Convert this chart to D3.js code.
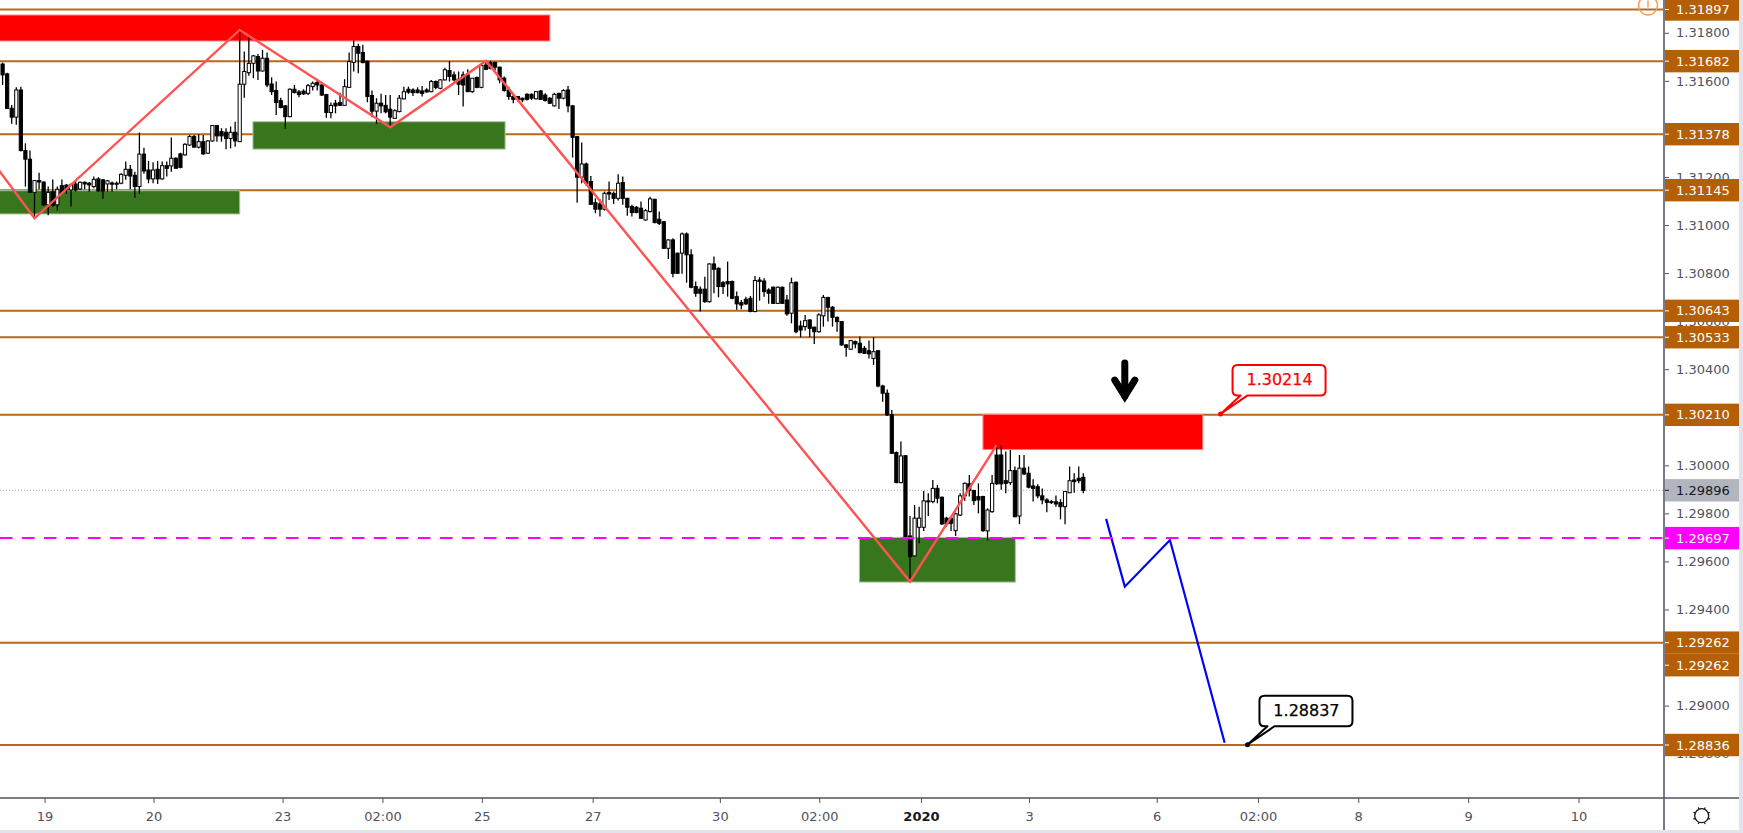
<!DOCTYPE html>
<html>
<head>
<meta charset="utf-8">
<title>GBPUSD levels</title>
<script src="https://cdn.jsdelivr.net/npm/d3@7"></script>
<style>
  html, body { margin: 0; padding: 0; background: #fff; overflow: hidden; }
  text { font-family: "DejaVu Sans", sans-serif; }
</style>
</head>
<body>
<svg id="chart" width="1743" height="833"></svg>
<script>
// candles: [open, high, low, close] in 1/100000 of a price unit
var barsA = [
[131670,131676,131583,131625],[131629,131634,131485,131485],[131486,131500,131421,131449],[131449,131573,131417,131562],
[131562,131576,131306,131310],[131310,131340,131160,131274],[131274,131310,131136,131136],[131136,131185,131028,131185],
[131185,131218,131149,131179],[131179,131181,131079,131084],[131084,131160,131041,131136],[131138,131190,131077,131081],
[131084,131160,131060,131149],[131164,131190,131129,131136],[131166,131171,131129,131146],[131146,131174,131077,131167],
[131171,131185,131139,131146],[131150,131181,131146,131178],[131178,131181,131149,131171],[131174,131179,131139,131167],
[131160,131202,131153,131190],[131192,131199,131139,131142],[131188,131192,131109,131142],[131171,131188,131139,131184],
[131175,131181,131139,131170],[131174,131181,131149,131170],[131174,131215,131170,131211],[131207,131264,131188,131232],
[131232,131250,131149,131204],[131207,131222,131114,131160],[131160,131385,131129,131295],[131295,131322,131213,131225],
[131229,131267,131174,131192],[131192,131261,131174,131229],[131232,131267,131171,131192],[131192,131264,131188,131247],
[131247,131264,131202,131236],[131246,131364,131222,131278],[131278,131282,131236,131236],[131296,131301,131236,131240],
[131292,131340,131288,131336],[131333,131375,131329,131368],[131368,131375,131324,131324],[131324,131378,131319,131347],
[131347,131375,131292,131296],[131299,131354,131296,131350],[131350,131414,131347,131414],[131414,131414,131347,131371],
[131389,131403,131347,131371],[131386,131403,131315,131360],[131360,131410,131319,131386],[131386,131430,131326,131350]
];
var barsB = [
[131347,131812,131347,131586],[131586,131722,131530,131639],[131634,131784,131621,131673],[131673,131708,131611,131704],
[131701,131712,131604,131641],[131641,131729,131639,131694],[131694,131718,131573,131583],[131587,131615,131541,131555],
[131560,131597,131458,131510],[131518,131530,131486,131489],[131496,131500,131401,131451],[131451,131569,131449,131565],
[131565,131583,131548,131551],[131554,131562,131532,131543],[131557,131565,131541,131546],[131548,131587,131541,131580],
[131576,131597,131560,131590],[131593,131607,131560,131583],[131583,131590,131537,131541],[131543,131546,131446,131468],
[131468,131510,131444,131498],[131507,131521,131465,131496],[131510,131551,131496,131498],[131498,131607,131496,131576],
[131573,131718,131573,131680],[131677,131768,131639,131743],[131743,131754,131632,131715],[131718,131750,131673,131676],
[131682,131684,131511,131535],[131539,131560,131449,131474],[131474,131528,131421,131507],[131507,131546,131465,131496],
[131498,131541,131465,131471],[131482,131541,131410,131449],[131444,131482,131444,131476],[131472,131541,131469,131528],
[131525,131576,131523,131555],[131565,131576,131546,131553],[131562,131569,131537,131551],[131562,131573,131548,131551],
[131558,131579,131535,131548],[131562,131569,131551,131554],[131555,131604,131553,131597],[131597,131601,131565,131573],
[131569,131607,131565,131604],[131604,131655,131601,131646],[131643,131683,131597,131618],[131625,131639,131597,131604],
[131607,131639,131541,131586],[131625,131639,131493,131583],[131625,131648,131555,131555],[131555,131611,131551,131611],
[131614,131618,131569,131573],[131573,131673,131569,131664],[131666,131684,131646,131648],[131676,131684,131648,131652],
[131676,131680,131643,131657]
];
var barsC = [
[131657,131659,131590,131604],[131611,131618,131555,131560],[131562,131576,131521,131535],[131535,131541,131507,131523],
[131535,131537,131514,131523],[131528,131530,131511,131521],[131544,131548,131518,131523],[131544,131548,131521,131528],
[131525,131558,131523,131555],[131558,131562,131521,131523],[131541,131548,131514,131518],[131528,131532,131504,131507],
[131496,131551,131493,131544],[131548,131551,131483,131528],[131528,131565,131523,131560],[131562,131579,131469,131496],
[131496,131500,131281,131365],[131368,131371,131093,131199],[131199,131343,131174,131254],[131254,131260,131163,131174],
[131181,131204,131084,131086],[131093,131111,131049,131066],[131088,131107,131035,131066],[131066,131139,131060,131132],
[131135,131181,131104,131129],[131132,131139,131088,131111],[131111,131211,131102,131174],[131177,131202,131084,131111],
[131111,131114,131039,131074],[131077,131084,131035,131052],[131074,131079,131049,131052],[131070,131098,131025,131028],
[131021,131066,131018,131060],[131056,131118,131052,131109],[131107,131109,131007,131010],[131024,131056,131000,131007],
[131014,131014,130901,130903],[130903,130941,130859,130938],[130938,130945,130783,130799],[130883,130885,130797,130799],
[130883,130969,130797,130963],[130963,130969,130760,130876],[130876,130899,130737,130741],[130744,130765,130702,130716],
[130733,130744,130640,130716],[130733,130785,130677,130681],[130681,130841,130677,130838],[130838,130869,130716,130816],
[130820,130824,130699,130744],[130760,130767,130713,130744],[130765,130848,130702,130755],[130765,130769,130691,130695],
[130702,130723,130647,130672],[130677,130688,130649,130667],[130691,130702,130667,130672],[130695,130705,130637,130640],
[130640,130788,130637,130769],[130771,130783,130685,130765],[130767,130779,130702,130723],[130730,130737,130672,130716],
[130741,130744,130672,130674],[130674,130744,130672,130741],[130741,130744,130672,130674],[130688,130709,130622,130630]
];
var barsD = [
[130633,130781,130591,130760],[130762,130765,130550,130556],[130580,130602,130533,130563],[130577,130626,130561,130602],
[130605,130608,130533,130570],[130575,130577,130505,130556],[130556,130633,130552,130626],[130622,130709,130577,130699],
[130698,130702,130598,130658],[130658,130663,130577,130616],[130616,130619,130556,130598],[130598,130598,130497,130501],
[130501,130505,130452,130491],[130483,130522,130480,130519],[130515,130519,130487,130505],[130508,130536,130466,130469],
[130487,130497,130464,130466],[130477,130519,130445,130464],[130445,130533,130418,130473],[130477,130480,130325,130330],
[130330,130335,130265,130300],[130300,130316,130205,130210],[130210,130230,130047,130050],[130053,130057,129925,129928],
[129928,130099,129925,130039],[130040,130043,129700,129703],[129706,129789,129516,129620],[129623,129835,129620,129780],
[129742,129828,129676,129780],[129742,129893,129727,129852],[129852,129884,129789,129849],[129849,129939,129842,129904],
[129904,129918,129842,129863],[129867,129870,129752,129756],[129780,129786,129745,129756],[129780,129786,129727,129759],
[129728,129803,129706,129798],[129793,129884,129789,129873],[129873,129928,129853,129925],[129923,129960,129870,129895],
[129895,129898,129835,129853],[129870,129925,129800,129856],[129870,129873,129724,129728],[129727,129821,129687,129814],
[129807,129960,129803,129925],[130043,130085,129918,129923],[130043,130082,129898,129923],[129936,130057,129884,129925],
[129928,130064,129918,129978],[129978,129995,129784,129786],[129789,130043,129755,129988],[129988,130043,129960,129964],
[129967,129995,129904,129909],[129914,129942,129849,129904],[129911,129921,129863,129873],[129873,129904,129838,129856],
[129856,129863,129805,129846],[129849,129856,129839,129845],[129848,129874,129828,129839],[129845,129859,129775,129828],
[129828,129893,129755,129891],[129886,129995,129884,129936],[129939,129967,129886,129932],[129946,129995,129925,129936],
[129950,129967,129884,129895]
];

var levels = [1.31897, 1.31682, 1.31378, 1.31145, 1.30643, 1.30533, 1.30210, 1.29262, 1.28836];
var stackedTag = { at: 1.29168, label: "1.29262" }; // second tag, pushed down by the axis
var lastPrice = 1.29896;
var dashedLevel = 1.29697;
var priceTicks = [1.318, 1.316, 1.312, 1.310, 1.308, 1.306, 1.304, 1.300, 1.298, 1.296, 1.294, 1.290, 1.288];

var timeTicks = [9.2, 33.1, 61.4, 83.3, 105.1, 129.4, 157.3, 179.1, 201.4, 225.1, 253.1, 275.3, 297.3, 321.4, 345.6];
var timeLabels = ["19", "20", "23", "02:00", "25", "27", "30", "02:00", "2020", "3", "6", "02:00", "8", "9", "10"];

// zones: bar from, bar to, price top, price bottom
var redZones = [[-2, 120, 1.31874, 1.31766], [215, 263.2, 1.30212, 1.30066]];
var greenZones = [[-2, 52, 1.31143, 1.31046], [54.9, 110.2, 1.31430, 1.31316], [187.9, 222.1, 1.29700, 1.29514]];

var zigzagBars = [-1, 7, 52, 85, 106, 199, 218];
var zigzagPrices = [1.31233, 1.31028, 1.31812, 1.31407, 1.31683, 1.29516, 1.30084];
var forecastBars = [242, 246.1, 256, 268];
var forecastPrices = [1.29777, 1.29495, 1.29689, 1.28845];

var callouts = [
  { bar: 267.1, price: 1.30214, color: "#ff0000" },
  { bar: 273, price: 1.28837, color: "#000000" }
];
var arrowBar = 246.1, arrowPrice = 1.30438;

var bars = barsA.concat(barsB, barsC, barsD);

var plotW = 1664, plotH = 798, panelR = 1739, panelB = 830;
var tagColor = "#b45f06", axisText = "#50535e";

var x = d3.scaleLinear().domain([0, 237]).range([2.6, 1083.3]);
var y = d3.scaleLinear().domain([1.31897, 1.28836]).range([9.5, 745]);

var svg = d3.select("#chart");
svg.append("rect").attr("width", 1743).attr("height", 833).attr("fill", "#e0e3eb");
svg.append("rect").attr("width", panelR).attr("height", panelB).attr("fill", "#fff");

svg.append("clipPath").attr("id", "plot").append("rect").attr("width", plotW).attr("height", plotH);
var plot = svg.append("g").attr("clip-path", "url(#plot)");

// horizontal levels sit under everything else
plot.selectAll(".level").data(levels).join("line")
  .attr("class", "level")
  .attr("x1", 0).attr("x2", plotW)
  .attr("y1", function(d) { return y(d); }).attr("y2", function(d) { return y(d); })
  .attr("stroke", "#b8691a").attr("stroke-width", 2);

plot.append("line")
  .attr("x1", 0).attr("x2", plotW).attr("y1", y(lastPrice)).attr("y2", y(lastPrice))
  .attr("stroke", "#a8abb4").attr("stroke-width", 1).attr("stroke-dasharray", "1 2");

function drawZones(data, fill, edge) {
  plot.selectAll(null).data(data).join("rect")
    .attr("x", function(d) { return x(d[0]); })
    .attr("width", function(d) { return x(d[1]) - x(d[0]); })
    .attr("y", function(d) { return y(d[2]); })
    .attr("height", function(d) { return y(d[3]) - y(d[2]); })
    .attr("fill", fill).attr("stroke", edge).attr("stroke-width", 1);
}
drawZones(redZones, "#ff0000", "#ff8080");
drawZones(greenZones, "#38761d", "#a9c49c");

// candles
var candle = plot.selectAll(".bar").data(bars).join("g").attr("class", "bar");
candle.append("line")
  .attr("x1", function(d, i) { return x(i); }).attr("x2", function(d, i) { return x(i); })
  .attr("y1", function(d) { return y(d[1] / 1e5); }).attr("y2", function(d) { return y(d[2] / 1e5); })
  .attr("stroke", "#000").attr("stroke-width", 1.3);
candle.append("rect")
  .attr("x", function(d, i) { return x(i) - 1.6; })
  .attr("width", 3.2)
  .attr("y", function(d) { return y(Math.max(d[0], d[3]) / 1e5); })
  .attr("height", function(d) { return Math.max(1, Math.abs(y(d[0] / 1e5) - y(d[3] / 1e5))); })
  .attr("fill", function(d) { return d[3] >= d[0] ? "#fff" : "#000"; })
  .attr("stroke", "#000").attr("stroke-width", 1);

var line = d3.line().x(function(d) { return x(d[0]); }).y(function(d) { return y(d[1]); });
plot.append("path").datum(d3.zip(zigzagBars, zigzagPrices))
  .attr("d", line).attr("fill", "none").attr("stroke", "#ff5252").attr("stroke-width", 2.4);
plot.append("path").datum(d3.zip(forecastBars, forecastPrices))
  .attr("d", line).attr("fill", "none").attr("stroke", "#0000ff").attr("stroke-width", 2.2);

plot.append("line")
  .attr("x1", 0).attr("x2", plotW).attr("y1", y(dashedLevel)).attr("y2", y(dashedLevel))
  .attr("stroke", "#ff00ff").attr("stroke-width", 2).attr("stroke-dasharray", "12.5 9.5");

// down arrow above the upper red zone
var arrow = plot.append("g")
  .attr("transform", "translate(" + x(arrowBar) + "," + y(arrowPrice) + ")")
  .attr("fill", "none").attr("stroke", "#000").attr("stroke-width", 7);
arrow.append("line").attr("x1", 0).attr("x2", 0).attr("y1", 3).attr("y2", 36).attr("stroke-linecap", "round");
arrow.append("path").attr("d", "M-10,20L0,36L10,20").attr("stroke-linecap", "round");

// price callouts
callouts.forEach(function(c) {
  var g = plot.append("g").attr("transform", "translate(" + x(c.bar) + "," + y(c.price) + ")");
  g.append("path")
    .attr("d", "M0,0L20,-18.5H17Q12,-18.5 12,-23.5V-44Q12,-49 17,-49H100Q105,-49 105,-44V-23.5Q105,-18.5 100,-18.5H27Z")
    .attr("fill", "#fff").attr("stroke", c.color).attr("stroke-width", 2).attr("stroke-linejoin", "round");
  g.append("circle").attr("r", 2.5).attr("fill", c.color);
  g.append("text").attr("x", 59).attr("y", -34)
    .attr("text-anchor", "middle").attr("dominant-baseline", "central")
    .attr("font-size", 16).attr("fill", c.color).attr("stroke", c.color).attr("stroke-width", 0.25)
    .text(d3.format(".5f")(c.price));
});

// alert clock on the axis edge
var alert = svg.append("g").attr("transform", "translate(1648," + (y(levels[0]) - 4) + ")");
alert.append("circle").attr("r", 9.5).attr("fill", "none").attr("stroke", "#ff9850").attr("stroke-width", 1.5);
alert.append("line").attr("y1", -5).attr("y2", 2).attr("stroke", "#ff9850").attr("stroke-width", 1.5);

// price axis
var priceAxis = svg.append("g").attr("transform", "translate(" + plotW + ",0)")
  .call(d3.axisRight(y).tickValues(priceTicks).tickFormat(d3.format(".5f")).tickSize(5).tickPadding(7));
priceAxis.select(".domain").remove();
priceAxis.selectAll("line").attr("stroke", axisText);
priceAxis.selectAll("text").attr("fill", axisText).attr("font-size", 13);

function priceTag(at, label, fill, color) {
  var g = svg.append("g").attr("transform", "translate(" + plotW + "," + y(at) + ")");
  g.append("rect").attr("y", -11.2).attr("width", panelR - plotW).attr("height", 22.4).attr("fill", fill);
  g.append("line").attr("x2", 5).attr("stroke", color).attr("stroke-width", 1);
  g.append("text").attr("x", 12).attr("dy", "0.35em").attr("font-size", 13).attr("fill", color).text(label);
}
levels.forEach(function(d) { priceTag(d, d3.format(".5f")(d), tagColor, "#fff"); });
priceTag(stackedTag.at, stackedTag.label, tagColor, "#fff");
priceTag(lastPrice, d3.format(".5f")(lastPrice), "#b2b5be", "#131722");
priceTag(dashedLevel, d3.format(".5f")(dashedLevel), "#ff00ff", "#fff");

svg.append("line").attr("x1", plotW).attr("x2", plotW).attr("y1", 0).attr("y2", panelB)
  .attr("stroke", "#787b86").attr("stroke-width", 2);

// time axis
var timeAxis = svg.append("g").attr("transform", "translate(0," + plotH + ")")
  .call(d3.axisBottom(x).tickValues(timeTicks)
    .tickFormat(function(d, i) { return timeLabels[i]; }).tickSize(5).tickPadding(9));
timeAxis.select(".domain").remove();
timeAxis.selectAll("line").attr("stroke", axisText);
timeAxis.selectAll("text").attr("font-size", 13)
  .attr("font-weight", function(d, i) { return timeLabels[i] === "2020" ? "bold" : null; })
  .attr("fill", function(d, i) { return timeLabels[i] === "2020" ? "#131722" : axisText; });
svg.append("line").attr("x1", 0).attr("x2", panelR).attr("y1", plotH).attr("y2", plotH)
  .attr("stroke", axisText).attr("stroke-width", 1.5);

// settings gear in the corner
var gear = svg.append("g").attr("transform", "translate(1701.7,815.7)").attr("stroke", "#131722").attr("fill", "none");
gear.append("circle").attr("r", 7).attr("stroke-width", 1.3);
d3.range(8).forEach(function(k) {
  var a = k * Math.PI / 4 + Math.PI / 8;
  gear.append("line").attr("x1", 7 * Math.cos(a)).attr("y1", 7 * Math.sin(a))
    .attr("x2", 9 * Math.cos(a)).attr("y2", 9 * Math.sin(a)).attr("stroke-width", 1.2);
});
</script>
</body>
</html>
